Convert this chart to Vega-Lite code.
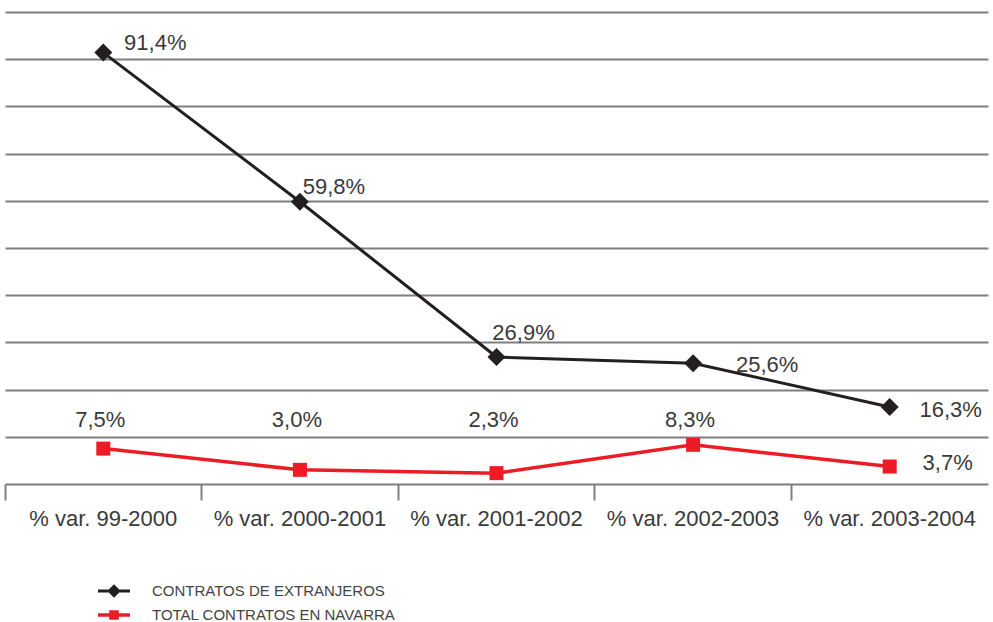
{
  "$schema": "https://vega.github.io/schema/vega-lite/v6.json",
  "autosize": "none",
  "width": 983,
  "height": 472,
  "padding": {"left": 5, "top": 12, "right": 5, "bottom": 138},
  "background": "white",
  "config": {
    "view": {"stroke": null},
    "font": "Liberation Sans",
    "text": {"font": "Liberation Sans", "fontSize": 22, "color": "#3a3a3a"}
  },
  "data": {
    "values": [
      {"periodo": "% var. 99-2000", "serie": "CONTRATOS DE EXTRANJEROS", "valor": 91.4, "etiqueta": "91,4%"},
      {"periodo": "% var. 2000-2001", "serie": "CONTRATOS DE EXTRANJEROS", "valor": 59.8, "etiqueta": "59,8%"},
      {"periodo": "% var. 2001-2002", "serie": "CONTRATOS DE EXTRANJEROS", "valor": 26.9, "etiqueta": "26,9%"},
      {"periodo": "% var. 2002-2003", "serie": "CONTRATOS DE EXTRANJEROS", "valor": 25.6, "etiqueta": "25,6%"},
      {"periodo": "% var. 2003-2004", "serie": "CONTRATOS DE EXTRANJEROS", "valor": 16.3, "etiqueta": "16,3%"},
      {"periodo": "% var. 99-2000", "serie": "TOTAL CONTRATOS EN NAVARRA", "valor": 7.5, "etiqueta": "7,5%"},
      {"periodo": "% var. 2000-2001", "serie": "TOTAL CONTRATOS EN NAVARRA", "valor": 3.0, "etiqueta": "3,0%"},
      {"periodo": "% var. 2001-2002", "serie": "TOTAL CONTRATOS EN NAVARRA", "valor": 2.3, "etiqueta": "2,3%"},
      {"periodo": "% var. 2002-2003", "serie": "TOTAL CONTRATOS EN NAVARRA", "valor": 8.3, "etiqueta": "8,3%"},
      {"periodo": "% var. 2003-2004", "serie": "TOTAL CONTRATOS EN NAVARRA", "valor": 3.7, "etiqueta": "3,7%"}
    ]
  },
  "encoding": {
    "x": {
      "field": "periodo", "type": "nominal", "sort": null,
      "scale": {"type": "band", "paddingInner": 0, "paddingOuter": 0},
      "axis": {
        "title": null, "domain": false, "grid": false,
        "bandPosition": 0, "tickSize": 16, "tickWidth": 2, "tickColor": "#7f7f7f",
        "labelFont": "Liberation Sans", "labelFontSize": 22, "labelColor": "#3a3a3a",
        "labelPadding": 8, "labelAngle": 0, "labelLimit": 300,
        "encode": {"ticks": {"update": {"strokeOpacity": {"signal": "datum.value === '% var. 99-2000' ? 0 : 1"}}}}
      }
    },
    "y": {
      "field": "valor", "type": "quantitative",
      "scale": {"domain": [0, 100], "nice": false},
      "axis": {
        "title": null, "labels": false, "ticks": false, "domain": false,
        "values": [0, 10, 20, 30, 40, 50, 60, 70, 80, 90, 100],
        "grid": true, "gridColor": "#7f7f7f", "gridWidth": 2, "gridOpacity": 1
      }
    }
  },
  "layer": [
    {
      "mark": {"type": "point", "filled": true, "opacity": 0},
      "encoding": {
        "color": {
          "field": "serie", "type": "nominal",
          "scale": {"domain": ["CONTRATOS DE EXTRANJEROS", "TOTAL CONTRATOS EN NAVARRA"], "range": ["#231f20", "#ed1c24"]},
          "legend": {
            "title": null, "orient": "none", "legendX": 93, "legendY": 563,
            "padding": 0, "symbolSize": 1024, "symbolOpacity": 1, "symbolStrokeWidth": 0,
            "labelFont": "Liberation Sans", "labelFontSize": 15, "labelColor": "#444444",
            "labelOffset": 22, "rowPadding": -8, "labelLimit": 400,
            "encode": {"symbols": {"update": {"opacity": {"value": 1}, "fillOpacity": {"value": 1}}}}
          }
        },
        "shape": {
          "field": "serie", "type": "nominal",
          "scale": {"domain": ["CONTRATOS DE EXTRANJEROS", "TOTAL CONTRATOS EN NAVARRA"],
            "range": [
              "M-1,-0.1L1,-0.1L1,0.1L-1,0.1Z M0,-0.42L0.42,0L0,0.42L-0.42,0Z",
              "M-1,-0.11L1,-0.11L1,0.11L-1,0.11Z M-0.3,-0.3L0.3,-0.3L0.3,0.3L-0.3,0.3Z"
            ]},
          "legend": {"title": null, "orient": "none", "legendX": 93, "legendY": 563}
        }
      }
    },
    {
      "transform": [{"filter": "datum.serie === 'CONTRATOS DE EXTRANJEROS'"}],
      "mark": {"type": "line", "color": "#231f20", "strokeWidth": 3}
    },
    {
      "transform": [{"filter": "datum.serie === 'TOTAL CONTRATOS EN NAVARRA'"}],
      "mark": {"type": "line", "color": "#ed1c24", "strokeWidth": 3.5}
    },
    {
      "transform": [{"filter": "datum.serie === 'CONTRATOS DE EXTRANJEROS'"}],
      "mark": {"type": "point", "shape": "diamond", "filled": true, "color": "#231f20", "size": 324, "opacity": 1}
    },
    {
      "transform": [{"filter": "datum.serie === 'TOTAL CONTRATOS EN NAVARRA'"}],
      "mark": {"type": "point", "shape": "square", "filled": true, "color": "#ed1c24", "size": 196, "opacity": 1}
    },
    {
      "transform": [{"filter": "datum.etiqueta === '91,4%'"}],
      "mark": {"type": "text", "dx": 52, "dy": -10},
      "encoding": {"text": {"field": "etiqueta"}}
    },
    {
      "transform": [{"filter": "datum.etiqueta === '59,8%'"}],
      "mark": {"type": "text", "dx": 34, "dy": -15},
      "encoding": {"text": {"field": "etiqueta"}}
    },
    {
      "transform": [{"filter": "datum.etiqueta === '26,9%'"}],
      "mark": {"type": "text", "dx": 27, "dy": -24},
      "encoding": {"text": {"field": "etiqueta"}}
    },
    {
      "transform": [{"filter": "datum.etiqueta === '25,6%'"}],
      "mark": {"type": "text", "dx": 74, "dy": 2},
      "encoding": {"text": {"field": "etiqueta"}}
    },
    {
      "transform": [{"filter": "datum.etiqueta === '16,3%'"}],
      "mark": {"type": "text", "dx": 61, "dy": 3},
      "encoding": {"text": {"field": "etiqueta"}}
    },
    {
      "transform": [{"filter": "datum.etiqueta === '3,7%'"}],
      "mark": {"type": "text", "dx": 58, "dy": -4},
      "encoding": {"text": {"field": "etiqueta"}}
    },
    {
      "transform": [{"filter": "datum.serie === 'TOTAL CONTRATOS EN NAVARRA' && datum.etiqueta !== '3,7%'"}],
      "mark": {"type": "text", "dx": -3},
      "encoding": {"y": {"datum": 13.56, "type": "quantitative"}, "text": {"field": "etiqueta"}}
    }
  ]
}
